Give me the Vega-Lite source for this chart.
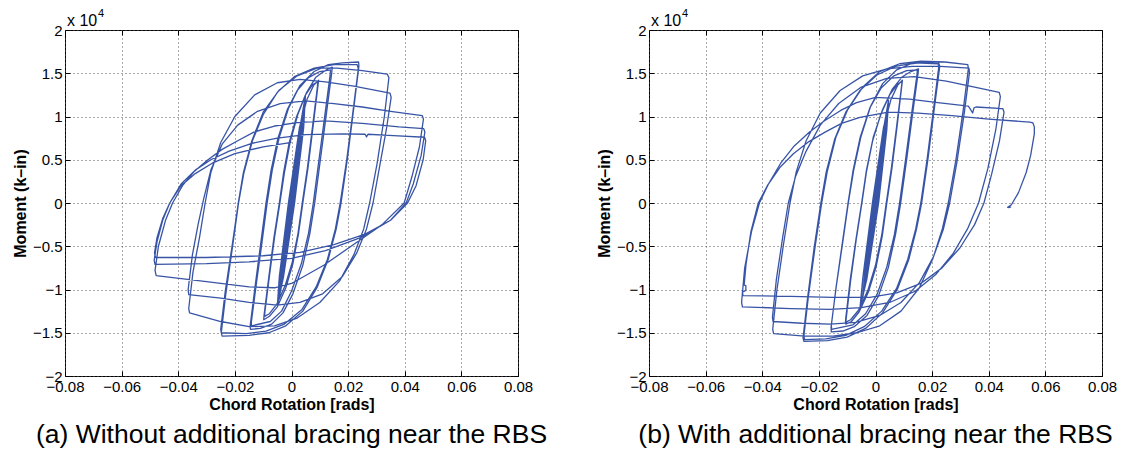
{
"$schema": "https://vega.github.io/schema/vega-lite/v6.json",
"background": "white",
"padding": {"left": 11, "top": 7, "right": 0, "bottom": 0},
"spacing": 131,
"bounds": "flush",
"datasets": {
"a": [
{"x":0,"y":0},
{"x":0.002,"y":0.49},{"x":0.00155,"y":0.346},{"x":0.0002,"y":0},{"x":-0.00127,"y":-0.346},{"x":-0.002,"y":-0.49},{"x":-0.00155,"y":-0.346},{"x":-0.0002,"y":0},{"x":0.00127,"y":0.346},
{"x":0.003,"y":0.73},{"x":0.00233,"y":0.516},{"x":0.0003,"y":0},{"x":-0.00191,"y":-0.516},{"x":-0.003,"y":-0.73},{"x":-0.00233,"y":-0.516},{"x":-0.0003,"y":0},{"x":0.00191,"y":0.516},
{"x":0.0035,"y":0.85},{"x":0.00275,"y":0.601},{"x":0.0004,"y":0},{"x":-0.00219,"y":-0.601},{"x":-0.0035,"y":-0.85},{"x":-0.00275,"y":-0.601},{"x":-0.0004,"y":0},{"x":0.00219,"y":0.601},
{"x":0.0036,"y":0.87},{"x":0.0028,"y":0.615},{"x":0.00045,"y":0},{"x":-0.00222,"y":-0.615},{"x":-0.0036,"y":-0.87},{"x":-0.0028,"y":-0.615},{"x":-0.00045,"y":0},{"x":0.00222,"y":0.615},
{"x":0.004,"y":0.97},{"x":0.00318,"y":0.686},{"x":0.0005,"y":0},{"x":-0.00248,"y":-0.686},{"x":-0.004,"y":-0.97},{"x":-0.00318,"y":-0.686},{"x":-0.0005,"y":0},{"x":0.00248,"y":0.686},
{"x":0.0042,"y":1.02},{"x":0.0034,"y":0.72},{"x":0.0006,"y":0},{"x":-0.0025,"y":-0.72},{"x":-0.0042,"y":-1.01},{"x":-0.0034,"y":-0.72},{"x":-0.0006,"y":0},{"x":0.0025,"y":0.72},
{"x":0.0045,"y":1.09},{"x":0.00367,"y":0.771},{"x":0.0007,"y":0},{"x":-0.00269,"y":-0.771},{"x":-0.0045,"y":-1.09},{"x":-0.00367,"y":-0.771},{"x":-0.0007,"y":0},{"x":0.00269,"y":0.771},
{"x":0.0047,"y":1.15},{"x":0.0039,"y":0.81},{"x":0.0008,"y":0},{"x":-0.0028,"y":-0.81},{"x":-0.0048,"y":-1.14},{"x":-0.0039,"y":-0.81},{"x":-0.0008,"y":0},{"x":0.0028,"y":0.81},
{"x":0.0049,"y":1.22},{"x":0.00418,"y":0.86},{"x":0.0009,"y":0},{"x":-0.0029,"y":-0.848},{"x":-0.005,"y":-1.18},{"x":-0.00418,"y":-0.848},{"x":-0.0009,"y":0},{"x":0.0029,"y":0.86},
{"x":0.0049,"y":1.24},{"x":0.0043,"y":0.87},{"x":0.0011,"y":0},{"x":-0.0028,"y":-0.85},{"x":-0.005,"y":-1.19},{"x":-0.0043,"y":-0.85},{"x":-0.0011,"y":0},{"x":0.0028,"y":0.87},
{"x":0.0055,"y":1.2},{"x":0.0078,"y":1.36},{"x":0.0096,"y":1.42},
{"x":0.0094,"y":1.37},{"x":0.0075,"y":0.85},{"x":0.0058,"y":0.4},{"x":0.004,"y":0},{"x":0.0025,"y":-0.35},{"x":0.0005,"y":-0.7},{"x":-0.002,"y":-0.98},{"x":-0.005,"y":-1.2},{"x":-0.0078,"y":-1.31},{"x":-0.0098,"y":-1.35},
{"x":-0.0097,"y":-1.3},{"x":-0.008,"y":-0.85},{"x":-0.0062,"y":-0.4},{"x":-0.0043,"y":0},{"x":-0.0028,"y":0.35},{"x":-0.0008,"y":0.7},{"x":0.0018,"y":1.0},{"x":0.0048,"y":1.24},{"x":0.0075,"y":1.37},{"x":0.0093,"y":1.4},
{"x":0.0091,"y":1.33},{"x":0.0073,"y":0.85},{"x":0.0056,"y":0.4},{"x":0.0038,"y":0},{"x":0.0023,"y":-0.35},{"x":0.0003,"y":-0.68},{"x":-0.0022,"y":-0.95},{"x":-0.0052,"y":-1.17},{"x":-0.0078,"y":-1.28},{"x":-0.0095,"y":-1.31},
{"x":-0.0094,"y":-1.26},{"x":-0.0077,"y":-0.82},{"x":-0.006,"y":-0.4},{"x":-0.0041,"y":0},{"x":-0.0025,"y":0.35},{"x":-0.0005,"y":0.7},{"x":0.0022,"y":1.02},{"x":0.0052,"y":1.27},{"x":0.0085,"y":1.45},{"x":0.0105,"y":1.5},{"x":0.0128,"y":1.55},{"x":0.0144,"y":1.57},
{"x":0.0142,"y":1.5},{"x":0.0124,"y":1.05},{"x":0.0102,"y":0.5},{"x":0.0082,"y":0},{"x":0.0065,"y":-0.35},{"x":0.004,"y":-0.72},{"x":0.0005,"y":-1.05},{"x":-0.003,"y":-1.27},{"x":-0.007,"y":-1.4},{"x":-0.011,"y":-1.45},{"x":-0.0145,"y":-1.46},
{"x":-0.0146,"y":-1.42},{"x":-0.0128,"y":-0.95},{"x":-0.0108,"y":-0.45},{"x":-0.009,"y":0},{"x":-0.0072,"y":0.38},{"x":-0.0048,"y":0.75},{"x":-0.0015,"y":1.08},{"x":0.002,"y":1.3},{"x":0.006,"y":1.45},{"x":0.01,"y":1.52},{"x":0.0138,"y":1.54},
{"x":0.0136,"y":1.47},{"x":0.0118,"y":1.02},{"x":0.0097,"y":0.5},{"x":0.0077,"y":0},{"x":0.006,"y":-0.35},{"x":0.0035,"y":-0.7},{"x":0.0,"y":-1.02},{"x":-0.0035,"y":-1.25},{"x":-0.0075,"y":-1.37},{"x":-0.0141,"y":-1.42},
{"x":-0.0142,"y":-1.38},{"x":-0.0124,"y":-0.93},{"x":-0.0104,"y":-0.45},{"x":-0.0086,"y":0},{"x":-0.0068,"y":0.38},{"x":-0.0044,"y":0.75},{"x":-0.001,"y":1.1},{"x":0.003,"y":1.36},{"x":0.008,"y":1.52},{"x":0.013,"y":1.6},{"x":0.018,"y":1.62},{"x":0.0237,"y":1.63},
{"x":0.0238,"y":1.58},{"x":0.022,"y":1.1},{"x":0.0197,"y":0.5},{"x":0.0175,"y":0},{"x":0.0158,"y":-0.3},{"x":0.013,"y":-0.65},{"x":0.009,"y":-0.98},{"x":0.004,"y":-1.25},{"x":-0.002,"y":-1.42},{"x":-0.008,"y":-1.5},{"x":-0.015,"y":-1.53},{"x":-0.0245,"y":-1.54},
{"x":-0.0248,"y":-1.5},{"x":-0.0232,"y":-1.05},{"x":-0.0208,"y":-0.5},{"x":-0.0187,"y":0},{"x":-0.0168,"y":0.35},{"x":-0.0138,"y":0.72},{"x":-0.01,"y":1.02},{"x":-0.005,"y":1.28},{"x":0.001,"y":1.46},{"x":0.008,"y":1.56},{"x":0.015,"y":1.6},{"x":0.0232,"y":1.6},
{"x":0.0236,"y":1.55},{"x":0.0218,"y":1.08},{"x":0.0195,"y":0.5},{"x":0.0172,"y":0},{"x":0.0155,"y":-0.3},{"x":0.0127,"y":-0.65},{"x":0.0087,"y":-0.97},{"x":0.0037,"y":-1.23},{"x":-0.0025,"y":-1.4},{"x":-0.009,"y":-1.48},{"x":-0.016,"y":-1.51},{"x":-0.0248,"y":-1.5},
{"x":-0.025,"y":-1.46},{"x":-0.0234,"y":-1.02},{"x":-0.021,"y":-0.5},{"x":-0.0188,"y":0},{"x":-0.017,"y":0.35},{"x":-0.014,"y":0.72},{"x":-0.01,"y":1.05},{"x":-0.0045,"y":1.3},{"x":0.002,"y":1.47},{"x":0.009,"y":1.56},{"x":0.016,"y":1.56},{"x":0.025,"y":1.53},{"x":0.0338,"y":1.49},
{"x":0.0344,"y":1.45},{"x":0.0328,"y":1.0},{"x":0.0302,"y":0.45},{"x":0.0276,"y":0},{"x":0.0255,"y":-0.3},{"x":0.022,"y":-0.6},{"x":0.017,"y":-0.9},{"x":0.01,"y":-1.15},{"x":0.002,"y":-1.33},{"x":-0.006,"y":-1.42},{"x":-0.015,"y":-1.43},{"x":-0.025,"y":-1.37},{"x":-0.036,"y":-1.27},
{"x":-0.0363,"y":-1.22},{"x":-0.0348,"y":-0.8},{"x":-0.0325,"y":-0.4},{"x":-0.0305,"y":0},{"x":-0.0285,"y":0.35},{"x":-0.025,"y":0.7},{"x":-0.02,"y":1.0},{"x":-0.013,"y":1.25},{"x":-0.005,"y":1.39},{"x":0.003,"y":1.43},{"x":0.012,"y":1.4},{"x":0.022,"y":1.35},{"x":0.0348,"y":1.27},
{"x":0.0352,"y":1.22},{"x":0.0335,"y":0.85},{"x":0.031,"y":0.4},{"x":0.0288,"y":0},{"x":0.0265,"y":-0.3},{"x":0.023,"y":-0.58},{"x":0.018,"y":-0.85},{"x":0.011,"y":-1.05},{"x":0.003,"y":-1.15},{"x":-0.005,"y":-1.18},{"x":-0.015,"y":-1.15},{"x":-0.025,"y":-1.1},{"x":-0.0363,"y":-1.06},
{"x":-0.0365,"y":-1.0},{"x":-0.035,"y":-0.6},{"x":-0.033,"y":-0.25},{"x":-0.031,"y":0.05},{"x":-0.0285,"y":0.38},{"x":-0.0245,"y":0.68},{"x":-0.019,"y":0.9},{"x":-0.012,"y":1.06},{"x":-0.004,"y":1.15},{"x":0.005,"y":1.18},{"x":0.015,"y":1.15},{"x":0.025,"y":1.11},{"x":0.035,"y":1.06},{"x":0.0462,"y":1.01},
{"x":0.0466,"y":0.97},{"x":0.0452,"y":0.65},{"x":0.0425,"y":0.3},{"x":0.0398,"y":0},{"x":0.032,"y":-0.25},{"x":0.0232,"y":-0.45},{"x":0.0114,"y":-0.72},{"x":0.0,"y":-0.93},{"x":-0.006,"y":-0.98},{"x":-0.015,"y":-0.97},{"x":-0.03,"y":-0.91},{"x":-0.0478,"y":-0.84},
{"x":-0.0482,"y":-0.78},{"x":-0.047,"y":-0.5},{"x":-0.0445,"y":-0.2},{"x":-0.042,"y":0},{"x":-0.0385,"y":0.2},{"x":-0.0345,"y":0.36},{"x":-0.0295,"y":0.5},{"x":-0.0245,"y":0.62},{"x":-0.019,"y":0.72},{"x":-0.0133,"y":0.82},{"x":-0.006,"y":0.89},{"x":0.002,"y":0.93},{"x":0.012,"y":0.95},{"x":0.025,"y":0.92},{"x":0.038,"y":0.88},{"x":0.0467,"y":0.86},
{"x":0.0471,"y":0.82},{"x":0.0458,"y":0.55},{"x":0.043,"y":0.22},{"x":0.0405,"y":0},{"x":0.035,"y":-0.2},{"x":0.0244,"y":-0.4},{"x":0.012,"y":-0.55},{"x":0.0,"y":-0.64},{"x":-0.015,"y":-0.68},{"x":-0.03,"y":-0.7},{"x":-0.0482,"y":-0.71},
{"x":-0.0485,"y":-0.66},{"x":-0.0475,"y":-0.45},{"x":-0.0455,"y":-0.2},{"x":-0.043,"y":0},{"x":-0.039,"y":0.22},{"x":-0.034,"y":0.38},{"x":-0.0285,"y":0.5},{"x":-0.022,"y":0.6},{"x":-0.014,"y":0.69},{"x":-0.005,"y":0.75},{"x":0.005,"y":0.79},{"x":0.018,"y":0.8},{"x":0.026,"y":0.795},{"x":0.0265,"y":0.765},{"x":0.027,"y":0.795},{"x":0.036,"y":0.78},{"x":0.047,"y":0.76},
{"x":0.0474,"y":0.72},{"x":0.0465,"y":0.5},{"x":0.044,"y":0.2},{"x":0.041,"y":0},{"x":0.035,"y":-0.2},{"x":0.026,"y":-0.36},{"x":0.015,"y":-0.48},{"x":0.003,"y":-0.57},{"x":-0.01,"y":-0.61},{"x":-0.03,"y":-0.63},{"x":-0.048,"y":-0.63},
{"x":-0.0484,"y":-0.58},{"x":-0.0475,"y":-0.4},{"x":-0.0455,"y":-0.18},{"x":-0.043,"y":0.0},{"x":-0.039,"y":0.2},{"x":-0.034,"y":0.34},{"x":-0.028,"y":0.46},{"x":-0.02,"y":0.57},{"x":-0.01,"y":0.65},{"x":0.0,"y":0.7}
],
"b": [
{"x":0,"y":0},
{"x":0.002,"y":0.49},{"x":0.00155,"y":0.346},{"x":0.0002,"y":0},{"x":-0.00127,"y":-0.346},{"x":-0.002,"y":-0.49},{"x":-0.00155,"y":-0.346},{"x":-0.0002,"y":0},{"x":0.00127,"y":0.346},
{"x":0.003,"y":0.73},{"x":0.00233,"y":0.516},{"x":0.0003,"y":0},{"x":-0.00191,"y":-0.516},{"x":-0.003,"y":-0.73},{"x":-0.00233,"y":-0.516},{"x":-0.0003,"y":0},{"x":0.00191,"y":0.516},
{"x":0.0035,"y":0.85},{"x":0.00275,"y":0.601},{"x":0.0004,"y":0},{"x":-0.00219,"y":-0.601},{"x":-0.0035,"y":-0.85},{"x":-0.00275,"y":-0.601},{"x":-0.0004,"y":0},{"x":0.00219,"y":0.601},
{"x":0.0036,"y":0.87},{"x":0.0028,"y":0.615},{"x":0.00045,"y":0},{"x":-0.00222,"y":-0.615},{"x":-0.0036,"y":-0.87},{"x":-0.0028,"y":-0.615},{"x":-0.00045,"y":0},{"x":0.00222,"y":0.615},
{"x":0.004,"y":0.97},{"x":0.00318,"y":0.686},{"x":0.0005,"y":0},{"x":-0.00248,"y":-0.686},{"x":-0.004,"y":-0.97},{"x":-0.00318,"y":-0.686},{"x":-0.0005,"y":0},{"x":0.00248,"y":0.686},
{"x":0.0042,"y":1.02},{"x":0.0034,"y":0.72},{"x":0.0006,"y":0},{"x":-0.0025,"y":-0.72},{"x":-0.0042,"y":-1.01},{"x":-0.0034,"y":-0.72},{"x":-0.0006,"y":0},{"x":0.0025,"y":0.72},
{"x":0.0045,"y":1.09},{"x":0.00367,"y":0.771},{"x":0.0007,"y":0},{"x":-0.00269,"y":-0.771},{"x":-0.0045,"y":-1.09},{"x":-0.00367,"y":-0.771},{"x":-0.0007,"y":0},{"x":0.00269,"y":0.771},
{"x":0.0046,"y":1.16},{"x":0.0039,"y":0.83},{"x":0.0009,"y":0},{"x":-0.0031,"y":-0.86},{"x":-0.0053,"y":-1.2},{"x":-0.0044,"y":-0.86},{"x":-0.0009,"y":0},{"x":0.0027,"y":0.83},
{"x":0.0046,"y":1.19},{"x":0.004,"y":0.85},{"x":0.0011,"y":0},{"x":-0.003,"y":-0.87},{"x":-0.0055,"y":-1.22},{"x":-0.0045,"y":-0.87},{"x":-0.0011,"y":0},{"x":0.0028,"y":0.87},
{"x":0.0055,"y":1.2},{"x":0.0078,"y":1.36},{"x":0.0095,"y":1.42},
{"x":0.0093,"y":1.36},{"x":0.0076,"y":0.88},{"x":0.0058,"y":0.4},{"x":0.004,"y":0},{"x":0.0024,"y":-0.38},{"x":0.0002,"y":-0.74},{"x":-0.0025,"y":-1.03},{"x":-0.0058,"y":-1.26},{"x":-0.0085,"y":-1.37},{"x":-0.0105,"y":-1.4},
{"x":-0.0104,"y":-1.35},{"x":-0.0088,"y":-0.9},{"x":-0.0068,"y":-0.42},{"x":-0.0048,"y":0},{"x":-0.0032,"y":0.36},{"x":-0.001,"y":0.72},{"x":0.0018,"y":1.02},{"x":0.005,"y":1.25},{"x":0.0077,"y":1.37},{"x":0.0094,"y":1.41},
{"x":0.0092,"y":1.35},{"x":0.0074,"y":0.87},{"x":0.0056,"y":0.4},{"x":0.0038,"y":0},{"x":0.0022,"y":-0.37},{"x":0.0,"y":-0.72},{"x":-0.0027,"y":-1.01},{"x":-0.006,"y":-1.24},{"x":-0.0088,"y":-1.35},{"x":-0.0106,"y":-1.38},
{"x":-0.0105,"y":-1.33},{"x":-0.0089,"y":-0.88},{"x":-0.0069,"y":-0.42},{"x":-0.0049,"y":0},{"x":-0.0032,"y":0.38},{"x":-0.0008,"y":0.76},{"x":0.0025,"y":1.08},{"x":0.006,"y":1.32},{"x":0.0095,"y":1.46},{"x":0.0125,"y":1.52},{"x":0.0152,"y":1.55},
{"x":0.015,"y":1.49},{"x":0.0131,"y":1.03},{"x":0.011,"y":0.5},{"x":0.0089,"y":0},{"x":0.0071,"y":-0.36},{"x":0.0045,"y":-0.75},{"x":0.001,"y":-1.08},{"x":-0.003,"y":-1.3},{"x":-0.0075,"y":-1.43},{"x":-0.0115,"y":-1.48},{"x":-0.0156,"y":-1.49},
{"x":-0.0157,"y":-1.44},{"x":-0.0139,"y":-0.97},{"x":-0.0117,"y":-0.46},{"x":-0.0097,"y":0},{"x":-0.0079,"y":0.38},{"x":-0.0054,"y":0.76},{"x":-0.002,"y":1.1},{"x":0.002,"y":1.33},{"x":0.0065,"y":1.47},{"x":0.011,"y":1.53},{"x":0.0148,"y":1.54},
{"x":0.0146,"y":1.47},{"x":0.0127,"y":1.02},{"x":0.0106,"y":0.5},{"x":0.0085,"y":0},{"x":0.0067,"y":-0.36},{"x":0.004,"y":-0.74},{"x":0.0005,"y":-1.06},{"x":-0.0035,"y":-1.28},{"x":-0.008,"y":-1.41},{"x":-0.0155,"y":-1.46},
{"x":-0.0156,"y":-1.41},{"x":-0.0138,"y":-0.95},{"x":-0.0116,"y":-0.46},{"x":-0.0096,"y":0},{"x":-0.0077,"y":0.38},{"x":-0.0052,"y":0.76},{"x":-0.0017,"y":1.12},{"x":0.0025,"y":1.38},{"x":0.0075,"y":1.54},{"x":0.0125,"y":1.61},{"x":0.0175,"y":1.63},{"x":0.0222,"y":1.63},
{"x":0.0227,"y":1.58},{"x":0.0208,"y":1.1},{"x":0.0185,"y":0.5},{"x":0.0163,"y":0},{"x":0.0145,"y":-0.3},{"x":0.0117,"y":-0.66},{"x":0.0077,"y":-1.0},{"x":0.0025,"y":-1.27},{"x":-0.0035,"y":-1.45},{"x":-0.01,"y":-1.55},{"x":-0.017,"y":-1.59},{"x":-0.0253,"y":-1.6},
{"x":-0.0256,"y":-1.56},{"x":-0.024,"y":-1.1},{"x":-0.0216,"y":-0.5},{"x":-0.0193,"y":0},{"x":-0.0174,"y":0.36},{"x":-0.0144,"y":0.74},{"x":-0.0105,"y":1.05},{"x":-0.0055,"y":1.3},{"x":0.0005,"y":1.48},{"x":0.007,"y":1.58},{"x":0.014,"y":1.62},{"x":0.0222,"y":1.61},
{"x":0.0223,"y":1.56},{"x":0.0205,"y":1.09},{"x":0.0182,"y":0.5},{"x":0.016,"y":0},{"x":0.0142,"y":-0.3},{"x":0.0114,"y":-0.65},{"x":0.0074,"y":-0.99},{"x":0.0022,"y":-1.25},{"x":-0.004,"y":-1.43},{"x":-0.0105,"y":-1.53},{"x":-0.0175,"y":-1.57},{"x":-0.025,"y":-1.58},
{"x":-0.0253,"y":-1.54},{"x":-0.0237,"y":-1.08},{"x":-0.0213,"y":-0.5},{"x":-0.019,"y":0},{"x":-0.017,"y":0.37},{"x":-0.014,"y":0.76},{"x":-0.0098,"y":1.08},{"x":-0.0045,"y":1.34},{"x":0.0015,"y":1.52},{"x":0.0085,"y":1.61},{"x":0.016,"y":1.64},{"x":0.0245,"y":1.63},{"x":0.0326,"y":1.6},
{"x":0.0328,"y":1.55},{"x":0.031,"y":1.08},{"x":0.0284,"y":0.5},{"x":0.0257,"y":0},{"x":0.0236,"y":-0.3},{"x":0.0203,"y":-0.64},{"x":0.0155,"y":-0.98},{"x":0.009,"y":-1.25},{"x":0.0015,"y":-1.42},{"x":-0.0065,"y":-1.5},{"x":-0.015,"y":-1.54},{"x":-0.025,"y":-1.54},{"x":-0.036,"y":-1.51},
{"x":-0.0363,"y":-1.46},{"x":-0.0348,"y":-1.0},{"x":-0.0325,"y":-0.48},{"x":-0.0302,"y":0},{"x":-0.028,"y":0.36},{"x":-0.0245,"y":0.72},{"x":-0.0195,"y":1.04},{"x":-0.0125,"y":1.3},{"x":-0.0045,"y":1.47},{"x":0.004,"y":1.55},{"x":0.013,"y":1.58},{"x":0.023,"y":1.58},{"x":0.033,"y":1.56},
{"x":0.0332,"y":1.51},{"x":0.0314,"y":1.05},{"x":0.0288,"y":0.48},{"x":0.0262,"y":0},{"x":0.024,"y":-0.3},{"x":0.0205,"y":-0.62},{"x":0.0155,"y":-0.92},{"x":0.009,"y":-1.15},{"x":0.0015,"y":-1.3},{"x":-0.007,"y":-1.38},{"x":-0.016,"y":-1.4},{"x":-0.026,"y":-1.39},{"x":-0.0362,"y":-1.37},
{"x":-0.0364,"y":-1.32},{"x":-0.035,"y":-0.88},{"x":-0.0328,"y":-0.4},{"x":-0.0308,"y":0},{"x":-0.0283,"y":0.3},{"x":-0.0245,"y":0.6},{"x":-0.0195,"y":0.9},{"x":-0.013,"y":1.15},{"x":-0.005,"y":1.34},{"x":0.004,"y":1.44},{"x":0.0137,"y":1.46},{"x":0.025,"y":1.41},{"x":0.035,"y":1.34},{"x":0.0437,"y":1.28},
{"x":0.0441,"y":1.23},{"x":0.0425,"y":0.85},{"x":0.0397,"y":0.4},{"x":0.0364,"y":0},{"x":0.0325,"y":-0.3},{"x":0.0275,"y":-0.58},{"x":0.0215,"y":-0.82},{"x":0.014,"y":-1.02},{"x":0.005,"y":-1.15},{"x":-0.005,"y":-1.21},{"x":-0.016,"y":-1.23},{"x":-0.03,"y":-1.22},{"x":-0.047,"y":-1.2},
{"x":-0.0473,"y":-1.15},{"x":-0.0462,"y":-0.75},{"x":-0.0438,"y":-0.33},{"x":-0.041,"y":0},{"x":-0.0378,"y":0.22},{"x":-0.0335,"y":0.46},{"x":-0.0287,"y":0.66},{"x":-0.0233,"y":0.82},{"x":-0.018,"y":0.95},{"x":-0.0123,"y":1.07},{"x":-0.0067,"y":1.16},{"x":0.0,"y":1.22},{"x":0.012,"y":1.2},{"x":0.022,"y":1.16},{"x":0.0328,"y":1.12},{"x":0.0336,"y":1.08},{"x":0.0343,"y":1.04},{"x":0.0348,"y":1.1},{"x":0.0355,"y":1.11},{"x":0.045,"y":1.09},
{"x":0.0454,"y":1.05},{"x":0.0438,"y":0.72},{"x":0.041,"y":0.33},{"x":0.0383,"y":0},{"x":0.035,"y":-0.25},{"x":0.0298,"y":-0.52},{"x":0.0235,"y":-0.75},{"x":0.016,"y":-0.93},{"x":0.0075,"y":-1.04},{"x":-0.002,"y":-1.09},{"x":-0.015,"y":-1.09},{"x":-0.03,"y":-1.08},{"x":-0.0468,"y":-1.07},
{"x":-0.047,"y":-1.03},{"x":-0.0458,"y":-1.01},{"x":-0.0458,"y":-0.955},{"x":-0.0464,"y":-0.95},{"x":-0.0457,"y":-0.7},{"x":-0.044,"y":-0.33},{"x":-0.0414,"y":0},{"x":-0.0382,"y":0.2},{"x":-0.0338,"y":0.41},{"x":-0.029,"y":0.57},{"x":-0.0235,"y":0.71},{"x":-0.0178,"y":0.82},{"x":-0.012,"y":0.92},{"x":-0.0055,"y":0.99},{"x":0.0045,"y":1.05},{"x":0.015,"y":1.04},{"x":0.027,"y":1.01},{"x":0.04,"y":0.97},{"x":0.0545,"y":0.935},{"x":0.0556,"y":0.925},
{"x":0.0561,"y":0.88},{"x":0.0561,"y":0.8},{"x":0.0548,"y":0.55},{"x":0.0532,"y":0.35},{"x":0.0505,"y":0.12},{"x":0.048,"y":-0.02},{"x":0.0467,"y":-0.05},{"x":0.0472,"y":-0.052},{"x":0.0479,"y":-0.045}
]
},
"hconcat": [
{
"width": 453, "height": 346,
"title": {"text": "(a) Without additional bracing near the RBS", "orient": "bottom", "anchor": "middle", "font": "Liberation Sans", "fontSize": 26.5, "fontWeight": "normal", "color": "black", "offset": 10},
"layer": [
{"data": {"name": "a"}, "mark": {"type": "line", "color": "#3854a6", "strokeWidth": 1.3, "strokeJoin": "round", "clip": true},
 "encoding": {
  "x": {"field": "x", "type": "quantitative", "scale": {"domain": [-0.08, 0.08], "nice": false, "zero": false}, "axis": {"values": [-0.08,-0.06,-0.04,-0.02,0,0.02,0.04,0.06,0.08], "format": "~g", "title": "Chord Rotation [rads]"}},
  "y": {"field": "y", "type": "quantitative", "scale": {"domain": [-2, 2], "nice": false, "zero": false}, "axis": {"values": [-2,-1.5,-1,-0.5,0,0.5,1,1.5,2], "format": "~g", "title": "Moment (k–in)"}},
  "order": {"value": null}}},
{"data": {"name": "a"}, "mark": {"type": "line", "opacity": 0},
 "encoding": {
  "x": {"field": "x", "type": "quantitative", "axis": {"orient": "top", "labels": false, "grid": false, "title": null, "values": [-0.08,-0.06,-0.04,-0.02,0,0.02,0.04,0.06,0.08]}},
  "y": {"field": "y", "type": "quantitative", "axis": {"orient": "right", "labels": false, "grid": false, "title": null, "values": [-2,-1.5,-1,-0.5,0,0.5,1,1.5,2]}},
  "order": {"value": null}}},
{"data": {"values": [{}]}, "mark": {"type": "text", "align": "left", "baseline": "alphabetic", "dx": 2, "dy": -4, "font": "Liberation Sans", "fontSize": 16, "color": "black"},
 "encoding": {"x": {"datum": -0.08, "type": "quantitative", "axis": null}, "y": {"datum": 2, "type": "quantitative", "axis": null}, "text": {"value": "x 10"}}},
{"data": {"values": [{}]}, "mark": {"type": "text", "align": "left", "baseline": "alphabetic", "dx": 33, "dy": -13, "font": "Liberation Sans", "fontSize": 11, "color": "black"},
 "encoding": {"x": {"datum": -0.08, "type": "quantitative", "axis": null}, "y": {"datum": 2, "type": "quantitative", "axis": null}, "text": {"value": "4"}}}
],
"resolve": {"axis": {"x": "independent", "y": "independent"}}
},
{
"width": 453, "height": 346,
"title": {"text": "(b) With additional bracing near the RBS", "orient": "bottom", "anchor": "middle", "font": "Liberation Sans", "fontSize": 26.5, "fontWeight": "normal", "color": "black", "offset": 10},
"layer": [
{"data": {"name": "b"}, "mark": {"type": "line", "color": "#3854a6", "strokeWidth": 1.3, "strokeJoin": "round", "clip": true},
 "encoding": {
  "x": {"field": "x", "type": "quantitative", "scale": {"domain": [-0.08, 0.08], "nice": false, "zero": false}, "axis": {"values": [-0.08,-0.06,-0.04,-0.02,0,0.02,0.04,0.06,0.08], "format": "~g", "title": "Chord Rotation [rads]"}},
  "y": {"field": "y", "type": "quantitative", "scale": {"domain": [-2, 2], "nice": false, "zero": false}, "axis": {"values": [-2,-1.5,-1,-0.5,0,0.5,1,1.5,2], "format": "~g", "title": "Moment (k–in)"}},
  "order": {"value": null}}},
{"data": {"name": "b"}, "mark": {"type": "line", "opacity": 0},
 "encoding": {
  "x": {"field": "x", "type": "quantitative", "axis": {"orient": "top", "labels": false, "grid": false, "title": null, "values": [-0.08,-0.06,-0.04,-0.02,0,0.02,0.04,0.06,0.08]}},
  "y": {"field": "y", "type": "quantitative", "axis": {"orient": "right", "labels": false, "grid": false, "title": null, "values": [-2,-1.5,-1,-0.5,0,0.5,1,1.5,2]}},
  "order": {"value": null}}},
{"data": {"values": [{}]}, "mark": {"type": "text", "align": "left", "baseline": "alphabetic", "dx": 2, "dy": -4, "font": "Liberation Sans", "fontSize": 16, "color": "black"},
 "encoding": {"x": {"datum": -0.08, "type": "quantitative", "axis": null}, "y": {"datum": 2, "type": "quantitative", "axis": null}, "text": {"value": "x 10"}}},
{"data": {"values": [{}]}, "mark": {"type": "text", "align": "left", "baseline": "alphabetic", "dx": 33, "dy": -13, "font": "Liberation Sans", "fontSize": 11, "color": "black"},
 "encoding": {"x": {"datum": -0.08, "type": "quantitative", "axis": null}, "y": {"datum": 2, "type": "quantitative", "axis": null}, "text": {"value": "4"}}}
],
"resolve": {"axis": {"x": "independent", "y": "independent"}}
}
],
"config": {
 "view": {"stroke": "black", "strokeWidth": 1},
 "axis": {"labelFont": "Liberation Sans", "labelFontSize": 15, "labelColor": "black", "labelOverlap": false, "labelFlush": false, "titleFont": "Liberation Sans", "titleFontSize": 16, "titleFontWeight": "bold", "titleColor": "black", "domain": false, "ticks": true, "tickColor": "black", "tickSize": -5, "grid": true, "gridDash": [1, 3], "gridColor": "#555555", "gridOpacity": 1, "gridWidth": 1},
 "axisX": {"labelPadding": 8.5, "titlePadding": 1.5},
 "axisY": {"labelPadding": 8, "titlePadding": 4}
}
}
